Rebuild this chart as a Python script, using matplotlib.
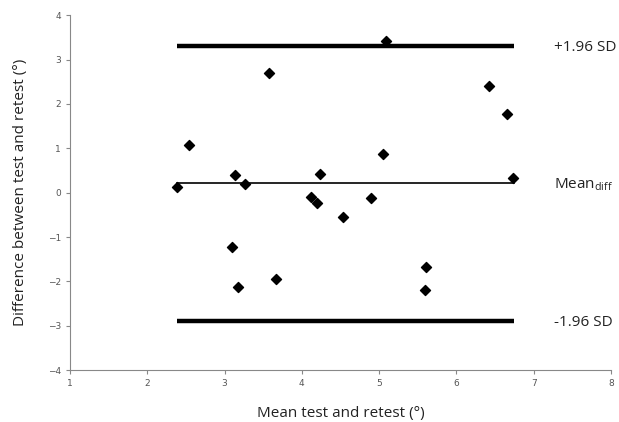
import matplotlib.pyplot as plt

# Bland-Altman data
mean_vals = [2.39, 2.545, 3.13, 3.26, 3.58, 4.12, 5.09, 6.42, 6.65, 5.05,
             4.24, 6.73, 4.20, 4.90, 4.53, 5.61, 5.60, 3.09, 3.18, 3.66]
diff_vals = [0.12, 1.075, 0.40, 0.19, 2.71, -0.09, 3.43, 2.41, 1.77, 0.87,
             0.42, 0.32, -0.24, -0.13, -0.555, -1.67, -2.19, -1.22, -2.13, -1.95]

mean_diff = 0.21
upper_loa = 3.31
lower_loa = -2.89
line_x = [2.38, 6.74]

x_ticks = [1, 2, 3, 4, 5, 6, 7, 8]
y_ticks = [-4, -3, -2, -1, 0, 1, 2, 3, 4]

fig = plt.figure(figsize=(6.19, 4.22), dpi=100)
ax = fig.add_axes([0.1131, 0.1232, 0.8739, 0.8405])

ax.plot(line_x, [upper_loa, upper_loa], color='black', linewidth=3.2, solid_capstyle='butt')
ax.plot(line_x, [lower_loa, lower_loa], color='black', linewidth=3.2, solid_capstyle='butt')
ax.plot(line_x, [mean_diff, mean_diff], color='black', linewidth=1.2)
ax.scatter(mean_vals, diff_vals, marker='D', s=26, color='black', zorder=3)

lbl = dict(fontsize=11, family='Open Sans', va='center', ha='left', color='#222222')
ax.text(7.26, upper_loa - 0.04, '+1.96 SD', **lbl)
ax.text(7.26, mean_diff - 0.04, r'Mean$_{\mathregular{diff}}$', **lbl)
ax.text(7.26, lower_loa - 0.04, '-1.96 SD', **lbl)

ax.set_xlim(1, 8)
ax.set_ylim(-4, 4)
ax.set_xticks(x_ticks)
ax.set_yticks(y_ticks)
ax.tick_params(labelsize=6.5, labelcolor='#555555', color='#888888', length=3, width=0.8)
for s in ['top', 'right']:
    ax.spines[s].set_visible(False)
for s in ['left', 'bottom']:
    ax.spines[s].set_color('#888888')
    ax.spines[s].set_linewidth(0.8)

ax.set_xlabel('Mean test and retest (°)', fontsize=11, family='Open Sans', labelpad=13, color='#222222')
ax.set_ylabel('Difference between test and retest (°)', fontsize=11, family='Open Sans', labelpad=14, color='#222222')

fig.savefig('out.png', dpi=100)
